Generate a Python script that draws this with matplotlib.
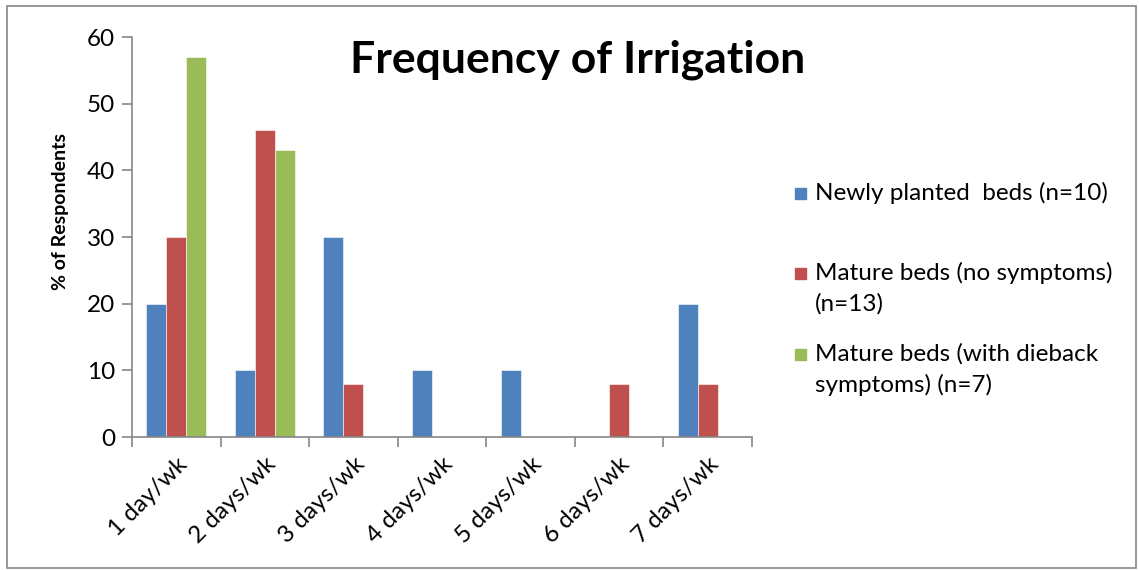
import numpy as np
import matplotlib.pyplot as plt
from matplotlib.patches import Rectangle

plt.rcParams['font.family'] = ['Lato', 'DejaVu Sans']

categories = ['1 day/wk', '2 days/wk', '3 days/wk', '4 days/wk',
              '5 days/wk', '6 days/wk', '7 days/wk']
newly_planted = [20, 10, 30, 10, 10, 0, 20]
mature_no_symptoms = [30, 46, 8, 0, 0, 8, 8]
mature_dieback = [57, 43, 0, 0, 0, 0, 0]
series_labels = ['Newly planted  beds (n=10)',
                 'Mature beds (no symptoms)\n(n=13)',
                 'Mature beds (with dieback\nsymptoms) (n=7)']
colors = ['#4F81BD', '#C0504D', '#9BBB59']
yticks = [0, 10, 20, 30, 40, 50, 60]

W, H = 1139, 570
fig = plt.figure(figsize=(W / 100, H / 100), dpi=100)
ax = fig.add_axes([132 / W, 1 - 437 / H, (752 - 132) / W, 400 / H])

x = np.arange(len(categories))
bw = 0.226
for i, vals in enumerate([newly_planted, mature_no_symptoms, mature_dieback]):
    ax.bar(x + (i - 1) * bw, vals, bw, color=colors[i], edgecolor='white',
           linewidth=0.4, zorder=2)

ax.set_xlim(-0.5, len(categories) - 0.5)
ax.set_ylim(0, 60)
ax.set_yticks(yticks)
ax.set_yticklabels([str(v) for v in yticks], fontsize=17.5)
ax.set_xticks(x)
ax.set_xticklabels(categories, rotation=45, ha='right', rotation_mode='anchor',
                   fontsize=17.5)
ax.tick_params(axis='x', length=0, pad=12)
ax.set_xticks(np.arange(len(categories) + 1) - 0.5, minor=True)
ax.tick_params(axis='x', which='minor', length=7, color='#868686', width=1.2)
ax.tick_params(axis='y', length=7, color='#868686', width=1.2, pad=5)

for s in ['top', 'right']:
    ax.spines[s].set_visible(False)
for s in ['left', 'bottom']:
    ax.spines[s].set_color('#868686')
    ax.spines[s].set_linewidth(1.2)

ax.set_ylabel('% of Respondents', fontsize=14, fontweight='bold', va='center')
ax.yaxis.set_label_coords(-0.115, 0.565)

fig.text(578 / W, 1 - 60 / H, 'Frequency of Irrigation', fontsize=32,
         fontweight='bold', ha='center', va='center')

# legend
leg_y = [193, 273, 354]
for i, lab in enumerate(series_labels):
    fig.patches.append(Rectangle((795 / W, 1 - (leg_y[i] + 6) / H), 11 / W, 11 / H,
                                 transform=fig.transFigure, color=colors[i]))
    fig.text(815 / W, 1 - (leg_y[i] - 11) / H, lab, fontsize=17.5, ha='left',
             va='top', linespacing=1.5)

# outer border
fig.patches.append(Rectangle((7 / W, 2 / H), (W - 10) / W, (H - 8) / H,
                             transform=fig.transFigure, fill=False,
                             edgecolor='#868686', linewidth=1.2))

fig.savefig('out.png', dpi=100)
